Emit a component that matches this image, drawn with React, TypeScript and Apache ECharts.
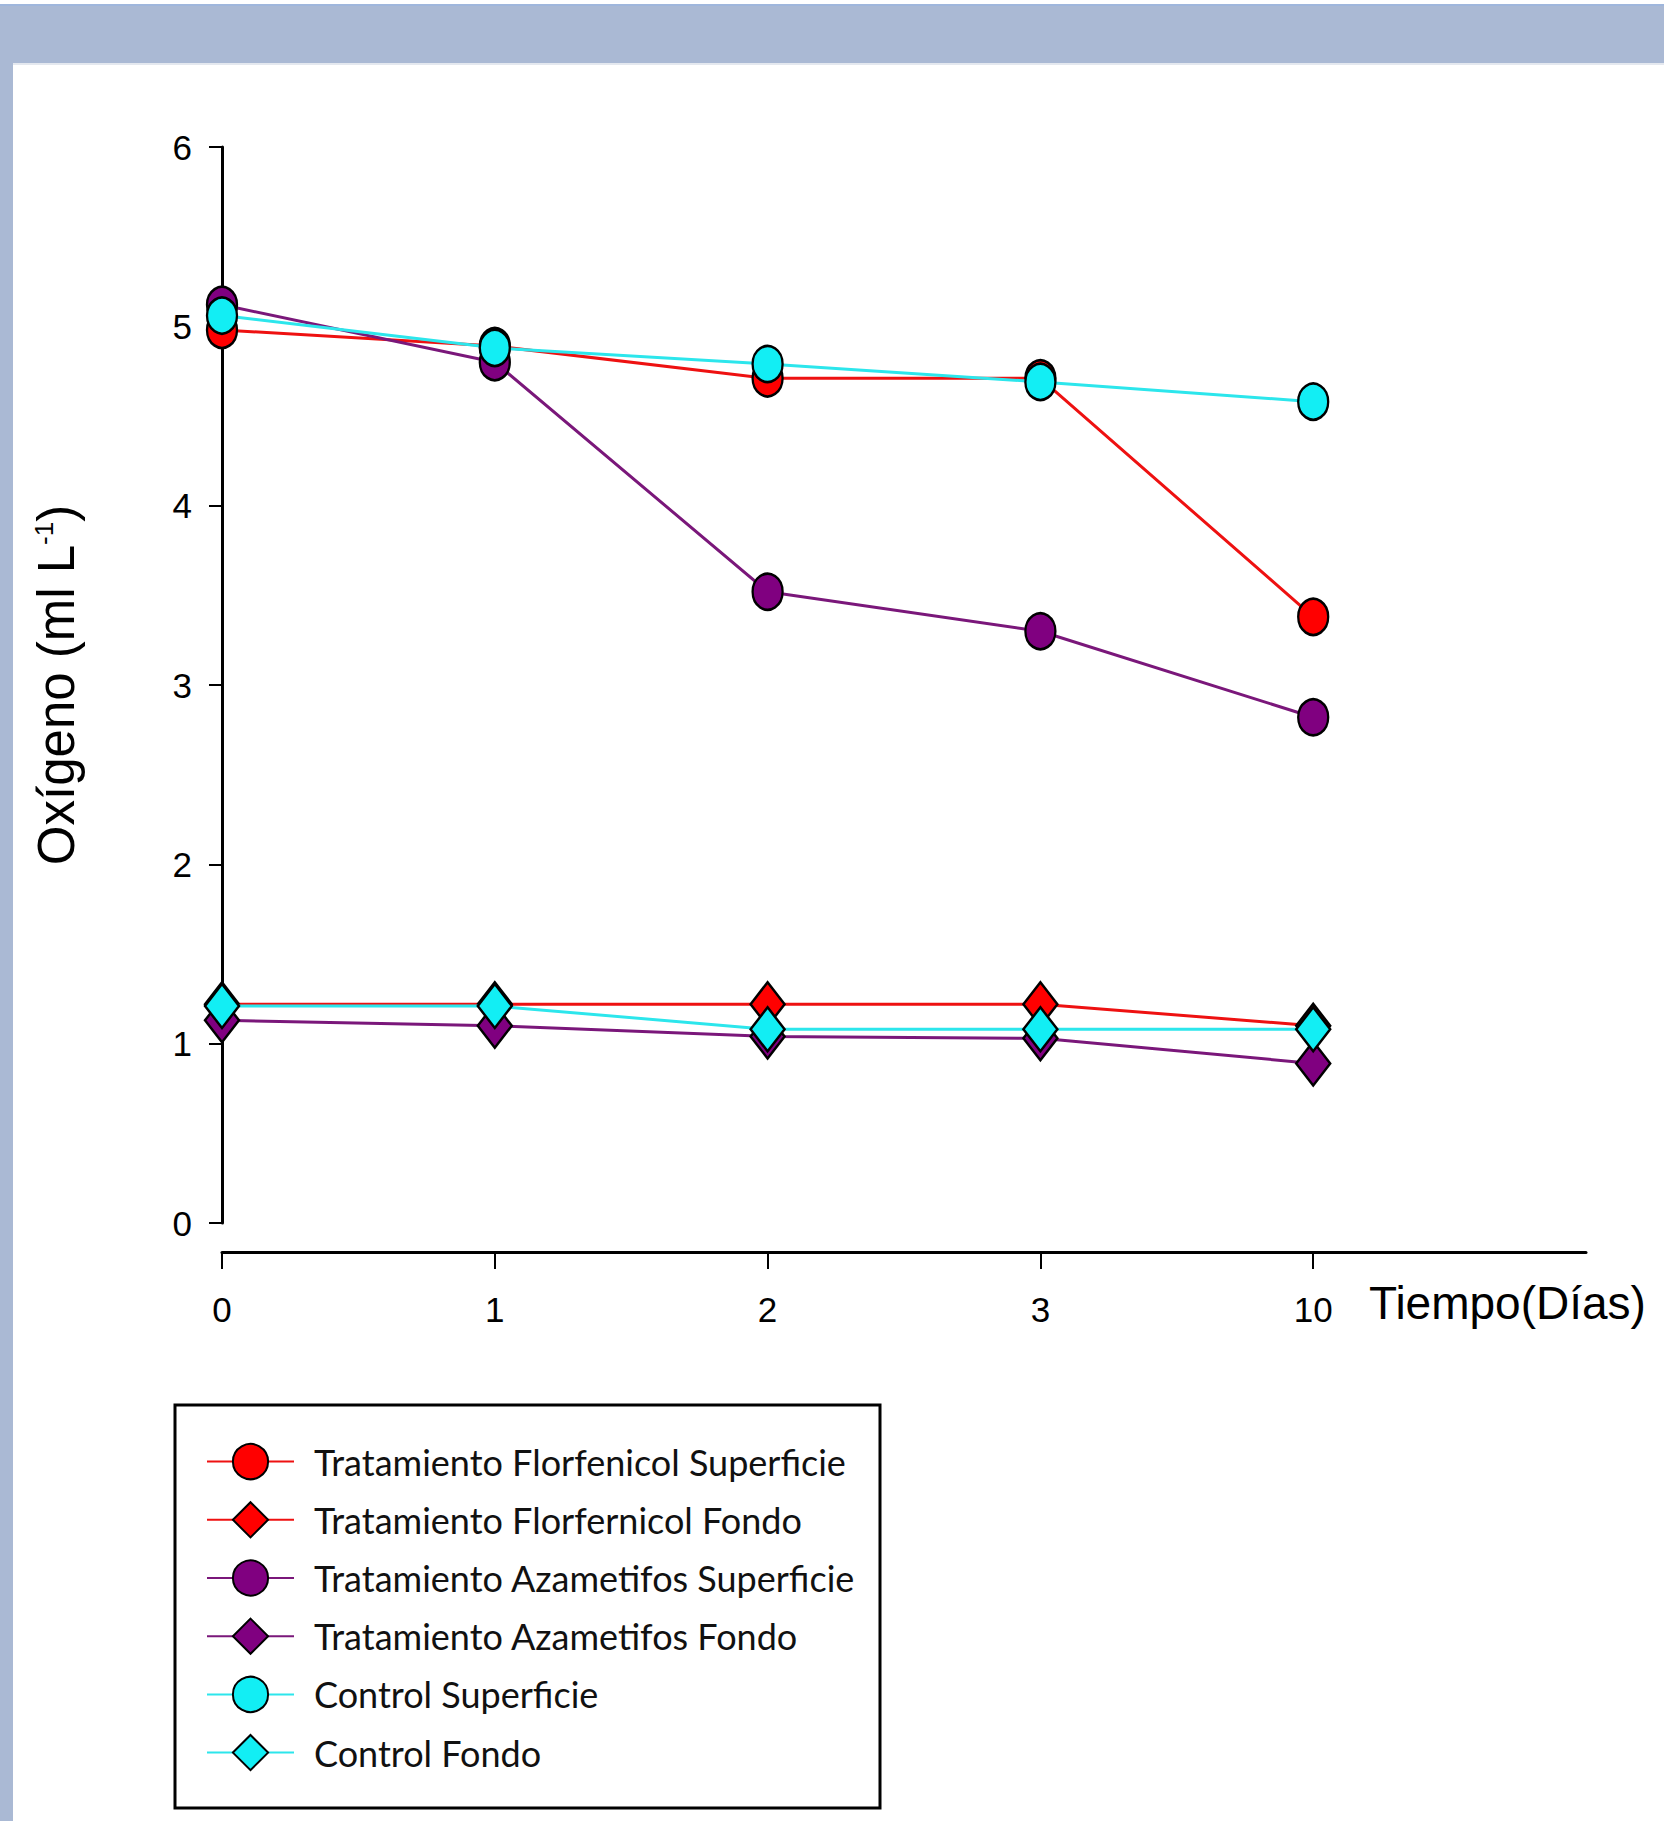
import React, { useEffect, useRef } from 'react';
import * as echarts from 'echarts';

const days = ['0', '1', '2', '3', '10', ''];
const yTickValues = [0, 1, 2, 3, 4, 5, 6];

const seriesNames = [
  'Tratamiento Florfenicol Superficie',
  'Tratamiento Florfernicol Fondo',
  'Tratamiento Azametifos Superficie',
  'Tratamiento Azametifos Fondo',
  'Control Superficie',
  'Control Fondo',
];

const florSup = [4.98, 4.89, 4.71, 4.71, 3.38];
const florFondo = [1.22, 1.22, 1.22, 1.22, 1.1];
const azaSup = [5.12, 4.8, 3.52, 3.3, 2.82];
const azaFondo = [1.13, 1.1, 1.04, 1.03, 0.89];
const ctrlSup = [5.06, 4.88, 4.79, 4.69, 4.58];
const ctrlFondo = [1.21, 1.21, 1.08, 1.08, 1.08];

const seriesValues = [florSup, florFondo, azaSup, azaFondo, ctrlSup, ctrlFondo];
const seriesSymbols = ['circle', 'diamond', 'circle', 'diamond', 'circle', 'diamond'];
const markerColors = ['#ff0000', '#ff0000', '#800080', '#800080', '#12eef4', '#12eef4'];
const lineColors = ['#ee1111', '#ee1111', '#7a177a', '#7a177a', '#2ce6ec', '#2ce6ec'];

const AXIS_FONT = "'Liberation Sans', Arial, sans-serif";
const LEGEND_FONT = "Lato, 'Open Sans', sans-serif";

export default function App() {
  const ref = useRef<HTMLDivElement>(null);

  useEffect(() => {
    document.body.style.margin = '0';
    if (!ref.current) return;
    const chart = echarts.init(ref.current, undefined, { renderer: 'svg' });

    const series = seriesNames.map((name, i) => ({
      name,
      type: 'line',
      data: seriesValues[i],
      symbol: seriesSymbols[i],
      symbolSize: seriesSymbols[i] === 'circle' ? [30, 36] : [34, 44],
      lineStyle: { color: lineColors[i], width: 3 },
      itemStyle: { color: markerColors[i], borderColor: '#000', borderWidth: 2.5 },
      z: 2 + i,
    }));

    chart.setOption({
      animation: false,
      backgroundColor: '#ffffff',
      grid: { left: 222, top: 147, width: 1364, height: 1076, containLabel: false },
      xAxis: {
        type: 'category',
        data: days,
        boundaryGap: false,
        offset: 29,
        axisLine: { show: true, onZero: false, lineStyle: { color: '#000', width: 3 } },
        axisTick: {
          show: true,
          length: 17,
          lineStyle: { color: '#000', width: 2 },
          interval: (index: number) => index < 5,
        },
        axisLabel: {
          interval: 0,
          margin: 40,
          fontSize: 35,
          color: '#000',
          fontFamily: AXIS_FONT,
        },
        splitLine: { show: false },
      },
      yAxis: {
        type: 'value',
        min: 0,
        max: 6,
        interval: 1,
        name: 'Oxígeno (ml L{sup|-1})',
        nameLocation: 'middle',
        nameRotate: 90,
        nameGap: 140,
        nameTextStyle: {
          fontSize: 51,
          color: '#000',
          fontFamily: AXIS_FONT,
          rich: {
            sup: { fontSize: 26, verticalAlign: 'top', fontFamily: AXIS_FONT, color: '#000' },
          },
        },
        axisLine: { show: true, lineStyle: { color: '#000', width: 3 } },
        axisTick: { show: true, length: 13, lineStyle: { color: '#000', width: 2 } },
        axisLabel: {
          margin: 30,
          fontSize: 35,
          color: '#000',
          fontFamily: AXIS_FONT,
          formatter: (v: number) => (yTickValues.includes(v) ? String(v) : ''),
        },
        splitLine: { show: false },
      },
      legend: {
        orient: 'vertical',
        left: 206,
        top: 1443,
        padding: 0,
        itemWidth: 87,
        itemHeight: 44,
        itemGap: 21,
        data: seriesNames,
        textStyle: {
          fontFamily: LEGEND_FONT,
          fontSize: 36,
          color: '#111',
          padding: [0, 0, 0, 15],
        },
      },
      graphic: [
        { type: 'rect', z: -10, silent: true, shape: { x: 0, y: 4, width: 1664, height: 2 }, style: { fill: '#9fb6dc' } },
        { type: 'rect', z: -10, silent: true, shape: { x: 0, y: 6, width: 1664, height: 57 }, style: { fill: '#aab9d4' } },
        { type: 'rect', z: -10, silent: true, shape: { x: 0, y: 63, width: 13, height: 1758 }, style: { fill: '#aab9d4' } },
        { type: 'rect', z: -9, silent: true, shape: { x: 13, y: 63, width: 1651, height: 2 }, style: { fill: '#e4e8ef' } },
        {
          type: 'rect',
          z: 1,
          silent: true,
          shape: { x: 175, y: 1405, width: 705, height: 403 },
          style: { fill: 'none', stroke: '#000', lineWidth: 3 },
        },
        {
          type: 'text',
          z: 5,
          silent: true,
          x: 1369,
          y: 1303,
          style: {
            text: 'Tiempo(Días)',
            fontSize: 46,
            fontFamily: AXIS_FONT,
            fill: '#000',
            align: 'left',
            verticalAlign: 'middle',
          },
        },
      ],
      series,
    });

    return () => chart.dispose();
  }, []);

  return <div ref={ref} style={{ width: 1664, height: 1821 }} />;
}
